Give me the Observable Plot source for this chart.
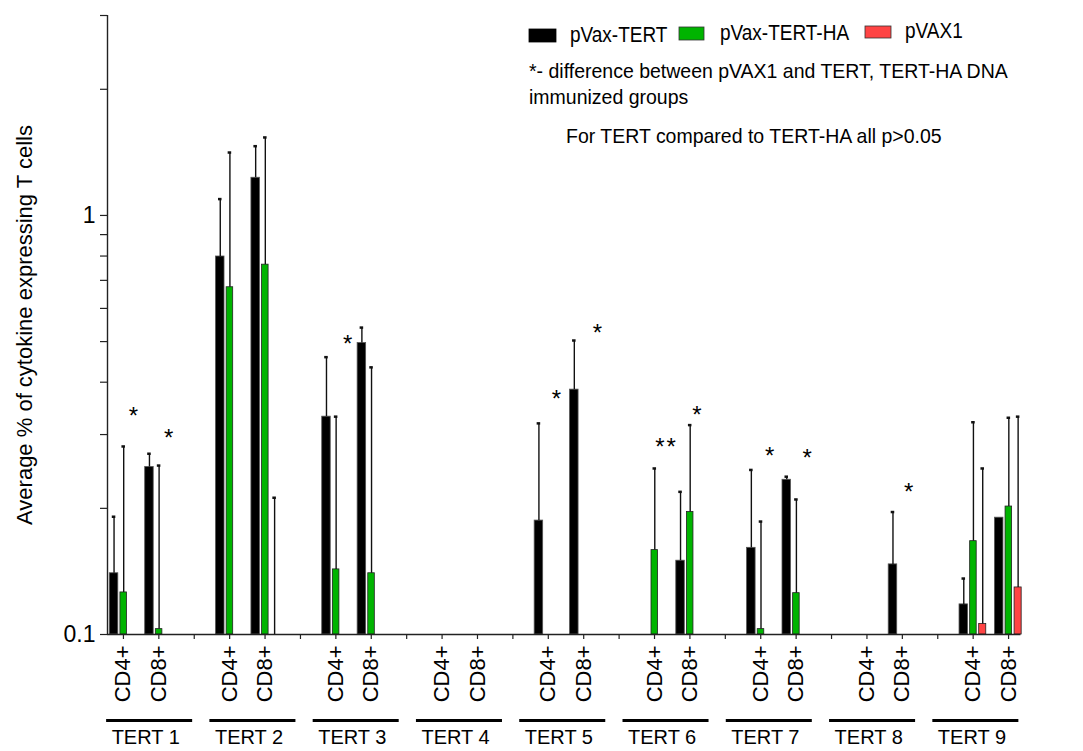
<!DOCTYPE html>
<html>
<head>
<meta charset="utf-8">
<script src="https://cdn.jsdelivr.net/npm/d3@7"></script>
<script src="https://cdn.jsdelivr.net/npm/@observablehq/plot@0.6"></script>
<style>
  html, body { margin: 0; padding: 0; background: #fff; }
  #fig { position: relative; width: 1083px; height: 751px; }
  #fig svg { position: absolute; left: 0; top: 0; }
</style>
</head>
<body>
<div id="fig"></div>
<script>
// ---------------- data ----------------
const groups = ["TERT 1","TERT 2","TERT 3","TERT 4","TERT 5","TERT 6","TERT 7","TERT 8","TERT 9"];
const cells = ["CD4+","CD8+"];
const seriesNames = ["pVax-TERT","pVax-TERT-HA","pVAX1"];
const seriesColors = ["#000000","#00b400","#ff4444"];

// order: TERT1 CD4+, TERT1 CD8+, TERT2 CD4+, ...
const tertMean  = [0.140,0.251, 0.798,1.23, 0.331,0.496, null,null, 0.187,0.384, null,0.150, 0.161,0.234, null,0.147, 0.118,0.190];
const tertUpper = [0.191,0.270, 1.094,1.463, 0.459,0.540, null,null, 0.319,0.503, null,0.219, 0.247,0.238, null,0.196, 0.136,null];
const haMean    = [0.126,0.103, 0.674,0.763, 0.143,0.140, null,null, null,null, 0.159,0.196, 0.103,0.1255, null,null, 0.167,0.202];
const haUpper   = [0.281,0.253, 1.413,1.535, 0.331,0.434, null,null, null,null, 0.249,0.316, 0.186,0.210, null,null, 0.321,0.329];
const vaxMean   = [null,null, null,null, null,null, null,null, null,null, null,null, null,null, null,null, 0.106,0.1295];
const vaxUpper  = [null,null, null,0.212, null,null, null,null, null,null, null,null, null,null, null,null, 0.249,0.331];

const yTicks = [0.1,0.2,0.3,0.4,0.5,0.6,0.7,0.8,0.9,1,2,3];
const yTickLabels = {0.1: "0.1", 1: "1"};

const stars = [
  {group:0, cell:0, mark:"*",   level:0.344},
  {group:0, cell:1, mark:"*",   level:0.305},
  {group:2, cell:1, mark:"*",   level:0.511},
  {group:4, cell:0, mark:"*",   level:0.378},
  {group:4, cell:1, mark:"*",   level:0.541},
  {group:5, cell:0, mark:"*\u200A*", level:0.290},
  {group:5, cell:1, mark:"*",   level:0.346},
  {group:6, cell:0, mark:"*",   level:0.276},
  {group:6, cell:1, mark:"*",   level:0.272},
  {group:7, cell:1, mark:"*",   level:0.226}
];
const yLabel = "Average % of cytokine expressing T cells";
const noteLines = ["*- difference between pVAX1 and TERT, TERT-HA DNA", "immunized groups", "For TERT compared to TERT-HA all p>0.05"];

// ---------------- layout (not data) ----------------
const W = 1083, H = 751;
const slotOf = (g, c) => g * 3 + c;
const barOffsets = [[-0.385,-0.145],[-0.085,0.10],[0.17,0.37]];   // in slot units
const starNudge = [0.28,0.28,-0.67,0.23,0.39,0.31,0.20,0.25,0.31,0.18];
const FONT = "'Liberation Sans', Arial, Helvetica, sans-serif";

const meanSets = [tertMean, haMean, vaxMean];
const upperSets = [tertUpper, haUpper, vaxUpper];
const rows = [];
groups.forEach((g, gi) => cells.forEach((c, ci) => seriesNames.forEach((s, si) => {
  const k = gi * 2 + ci;
  const off = barOffsets[si];
  const slot = slotOf(gi, ci);
  rows.push({group: g, cell: c, series: s, si, slot,
    x1: slot + off[0], x2: slot + off[1], xc: slot + (off[0] + off[1]) / 2,
    value: meanSets[si][k], upper: upperSets[si][k]});
})));
const barRows = rows.filter(d => d.value != null);
const errRows = rows.filter(d => d.upper != null);
const slots = d3.range(26);
const slotLabel = i => (i % 3 < 2 ? cells[i % 3] : "");
const groupCenter = i => 0.74 + i * 2.917;

const chart = Plot.plot({
  width: W, height: H,
  marginLeft: 107, marginRight: 59, marginTop: 15, marginBottom: 117,
  style: {fontFamily: FONT, fontSize: "22px", color: "#000", background: "#fff", overflow: "visible"},
  x: {type: "linear", domain: [-0.45, 25.45], axis: null},
  y: {type: "log", domain: [0.1, 3], axis: null},
  marks: [
    // bars
    Plot.rect(barRows, {x1: "x1", x2: "x2", y1: 0.1, y2: "value",
      fill: d => seriesColors[d.si], stroke: d => d.si === 0 ? "#555" : "#222", strokeWidth: 0.8}),
    // whiskers
    Plot.ruleX(errRows, {x: "xc", y1: d => d.value ?? 0.1, y2: "upper", stroke: "#111", strokeWidth: 1.4}),
    Plot.ruleY(errRows, {y: "upper", x1: d => d.xc - 0.05, x2: d => d.xc + 0.05, stroke: "#111", strokeWidth: 2.5}),
    // axes lines
    Plot.ruleX([-0.45], {y1: 0.1, y2: 3, stroke: "#222", strokeWidth: 1.4}),
    Plot.ruleY([0.1], {x1: -0.45, x2: 25.35, stroke: "#222", strokeWidth: 1.4}),
    Plot.axisY(yTicks, {tickSize: 7, tickPadding: 5, tickFormat: d => yTickLabels[d] ?? "", fontSize: 23, stroke: "#222", strokeWidth: 1.2, label: null}),
    Plot.axisX(slots, {tickSize: 5, tickPadding: 6, tickRotate: -90, tickFormat: slotLabel, fontSize: 22, stroke: "#222", strokeWidth: 1.2, label: null}),
    // group labels & underlines
    Plot.ruleY(groups, {y: () => 0.1, x1: (d, i) => groupCenter(i) - 1.215, x2: (d, i) => groupCenter(i) + 1.215, dy: 86, stroke: "#000", strokeWidth: 3}),
    Plot.text(groups, {x: (d, i) => groupCenter(i) - 0.11, frameAnchor: "bottom", dy: 109, lineAnchor: "bottom", text: d => d, fontSize: 20}),
    // significance stars
    Plot.text(stars, {x: (d, i) => slotOf(d.group, d.cell) + starNudge[i], y: "level", text: "mark", fontSize: 24, lineAnchor: "top", dy: -3}),
    // y label
    Plot.text([yLabel], {frameAnchor: "left", textAnchor: "middle", rotate: -90, dx: -91, lineAnchor: "top", text: d => d, fontSize: 22})
  ]
});
document.getElementById("fig").appendChild(chart);

// ---------------- legend / notes overlay ----------------
const ov = d3.select("#fig").append("svg")
  .attr("width", W).attr("height", 160)
  .style("font-family", FONT).style("pointer-events", "none");
const legendItems = [
  {rx: 529, ry: 29, rw: 27, rh: 13, tx: 570, ty: 42},
  {rx: 679, ry: 27, rw: 25, rh: 13, tx: 720, ty: 40},
  {rx: 865, ry: 26, rw: 26, rh: 12, tx: 905, ty: 38}
];
legendItems.forEach((p, i) => {
  ov.append("rect").attr("x", p.rx).attr("y", p.ry).attr("width", p.rw).attr("height", p.rh)
    .attr("fill", seriesColors[i]).attr("stroke", i === 0 ? "#000" : "#333").attr("stroke-width", 0.8);
  ov.append("text").attr("transform", `translate(${p.tx},${p.ty}) scale(1,1.14)`)
    .attr("font-size", 19).text(seriesNames[i]);
});
const notePos = [[529, 78], [529, 104], [566, 143]];
noteLines.forEach((t, i) => {
  ov.append("text").attr("transform", `translate(${notePos[i][0]},${notePos[i][1]}) scale(1,1.08)`)
    .attr("font-size", 19.5).text(t);
});
</script>
</body>
</html>
